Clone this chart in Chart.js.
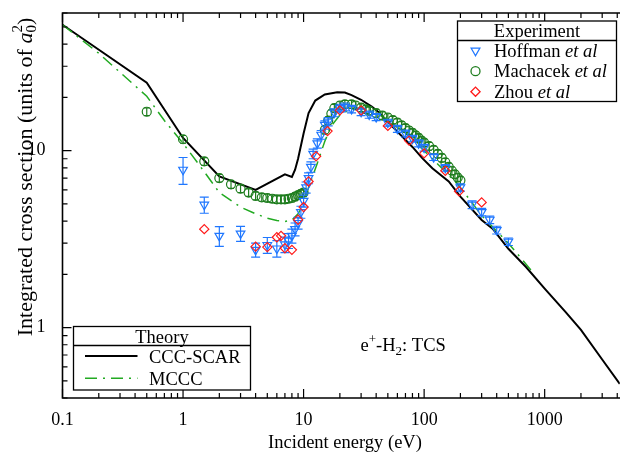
<!DOCTYPE html>
<html>
<head>
<meta charset="utf-8">
<script src="https://cdn.jsdelivr.net/npm/chart.js@4/dist/chart.umd.min.js"></script>
<style>
  html, body { margin: 0; padding: 0; background: #fff; overflow: hidden; }
  #wrap { width: 620px; height: 455px; overflow: hidden; }
  canvas { display: block; }
</style>
</head>
<body>
<!-- canvas is a little wider than the window: Chart.js keeps ~6px on the right,
     which the reference plot does not have -->
<div id="wrap"><canvas id="chart" width="626" height="455"></canvas></div>
<script>
// axis ticks
const xTicks = [0.1, 1, 10, 100, 1000];
const yTicks = [1, 10];

// theory curves
const cccE = [0.1, 0.5, 1, 2, 4, 7, 8, 8.5, 9, 10, 11, 12.5, 15, 19, 22, 25, 30, 37, 42, 58, 80, 96, 117, 160, 200, 300, 370, 500, 700, 1000, 1500, 2000, 3000, 4200];
const cccS = [51.5, 24.2, 11.8, 7.15, 6.0, 7.35, 7.1, 7.8, 9.0, 12.5, 16.3, 19.2, 20.8, 21.4, 21.3, 20.6, 19.4, 17.7, 16.5, 13.1, 10.5, 9.1, 7.95, 6.7, 5.5, 4.06, 3.62, 2.79, 2.2, 1.66, 1.22, 0.97, 0.66, 0.48];

const mcccE = [0.1, 0.2, 0.5, 0.7, 1, 1.4, 2, 3, 4, 5, 6, 7, 8, 9, 10, 11, 12, 13, 15, 17, 20, 25, 30, 40, 50, 70, 100, 150, 200, 300, 500, 800];
const mcccS = [51.5, 35.5, 20.3, 14.8, 11.0, 8.1, 5.8, 4.8, 4.4, 4.15, 4.03, 3.98, 4.05, 4.4, 5.0, 6.2, 7.3, 8.5, 11.3, 13.8, 15.9, 17.3, 17.4, 16.3, 15.0, 12.6, 10.0, 7.6, 6.2, 4.3, 3.0, 2.05];

// experiments
const hoffE = [1, 1.5, 2, 3, 4, 5, 6, 7, 7.5, 8, 8.5, 9, 9.5, 10, 10.5, 11, 11.5, 12, 13, 14, 15, 16, 18, 20, 22, 25, 30, 35, 40, 50, 60, 70, 80, 90, 100, 120, 150, 200, 250, 300, 350, 400, 500];
const hoffS = [7.8, 4.95, 3.3, 3.4, 2.75, 2.93, 2.8, 2.95, 3.1, 3.3, 3.6, 3.9, 4.5, 5.2, 6.2, 7.0, 8.1, 9.6, 11.0, 12.3, 14.0, 14.6, 16.4, 17.4, 17.7, 17.2, 16.6, 16.0, 15.5, 14.4, 13.3, 12.5, 11.7, 11.0, 10.4, 9.2, 8.0, 6.2, 4.95, 4.5, 4.07, 3.56, 3.06];
const hoffErr = [1.35, 0.52, 0.42, 0.33, 0.25, 0.3, 0.3, 0.3, 0.3, 0.3, 0.3, 0.3, 0.35, 0.4, 0.45, 0.5, 0.55, 0.6, 0.65, 0.7, 0.75, 0.8, 0.85, 0.9, 0.9, 0.85, 0.8, 0.75, 0.7, 0.65, 0.6, 0.55, 0.5, 0.5, 0.45, 0.4, 0.35, 0.3, 0.25, 0.22, 0.2, 0.18, 0.15];

const machE = [0.5, 1, 1.5, 2, 2.5, 3, 3.5, 4, 4.5, 5, 5.5, 6, 6.5, 7, 7.5, 8, 8.5, 9, 9.5, 10, 15, 16, 17, 18, 20, 22, 25, 27, 30, 33, 35, 40, 45, 50, 55, 60, 65, 70, 75, 80, 85, 90, 95, 100, 110, 120, 130, 140, 150, 160, 170, 180, 190, 200];
const machS = [16.6, 11.6, 8.7, 7.0, 6.45, 6.1, 5.8, 5.55, 5.45, 5.4, 5.35, 5.3, 5.3, 5.3, 5.35, 5.4, 5.5, 5.6, 5.7, 5.8, 13.1, 14.8, 16.2, 17.4, 18.0, 18.3, 18.3, 18.0, 17.5, 17.1, 16.8, 16.3, 15.8, 15.4, 14.9, 14.4, 13.9, 13.4, 13.0, 12.6, 12.2, 11.8, 11.4, 11.1, 10.6, 10.1, 9.6, 9.1, 8.6, 8.1, 7.7, 7.35, 7.05, 6.8];
const machRelErr = 0.05;

const zhouE = [1.5, 4, 5, 6, 6.5, 7, 8, 9, 10, 11, 12.7, 15.8, 20, 30, 50, 75, 100, 150, 195, 300];
const zhouS = [3.6, 2.87, 2.85, 3.24, 3.3, 2.81, 2.75, 4.07, 4.8, 6.7, 9.3, 12.9, 16.9, 16.9, 13.8, 11.4, 9.66, 7.7, 5.9, 5.1];

const BLUE = '#1f77ff';
const DKGREEN = '#1e7d1e';
const RED = '#ff1a1a';
const LTGREEN = '#22aa22';
const SERIF = '"Liberation Serif", "Times New Roman", serif';
const fnt = (size, italic) => (italic ? 'italic ' : '') + size + 'px ' + SERIF;

function pts(xs, ys) {
  return xs.map((x, i) => ({ x: x, y: ys[i] }));
}

// text with italics, sub- and superscripts
function drawRich(ctx, parts, x, y, size, align) {
  const small = Math.round(size * 0.7);
  const widths = parts.map(p => {
    if (p.stack) {
      ctx.font = fnt(small);
      return Math.max(ctx.measureText(p.stack[0]).width, ctx.measureText(p.stack[1]).width);
    }
    ctx.font = fnt(p.sup || p.sub ? small : size, p.i);
    return ctx.measureText(p.t).width;
  });
  const total = widths.reduce((a, b) => a + b, 0);
  let cx = align === 'center' ? x - total / 2 : x;
  ctx.textAlign = 'left';
  ctx.textBaseline = 'alphabetic';
  parts.forEach((p, k) => {
    if (p.stack) {
      ctx.font = fnt(small);
      ctx.fillText(p.stack[0], cx, y + size * 0.22);
      ctx.fillText(p.stack[1], cx, y - size * 0.45);
    } else {
      ctx.font = fnt(p.sup || p.sub ? small : size, p.i);
      ctx.fillText(p.t, cx, y + (p.sub ? size * 0.22 : p.sup ? -size * 0.42 : 0));
    }
    cx += widths[k];
  });
}

function marker(ctx, style, rot, r, x, y, color) {
  ctx.save();
  ctx.strokeStyle = color;
  ctx.fillStyle = 'rgba(0,0,0,0)';
  Chart.helpers.drawPoint(ctx, { pointStyle: style, rotation: rot, radius: r, borderWidth: 1.2 }, x, y);
  ctx.restore();
}

// error bars, drawn after each experimental set
const errorBars = {
  id: 'errorBars',
  afterDatasetDraw(chart, args) {
    const ds = chart.data.datasets[args.index];
    if (!ds.errors && !ds.relErr) return;
    const ctx = chart.ctx, ys = chart.scales.y;
    const a = chart.chartArea;
    ctx.save();
    ctx.beginPath();
    ctx.rect(a.left, a.top, a.right - a.left, a.bottom - a.top);
    ctx.clip();
    ctx.strokeStyle = ds.borderColor;
    ctx.lineWidth = 1.2;
    args.meta.data.forEach((el, i) => {
      const v = ds.data[i].y;
      const e = ds.errors ? ds.errors[i] : v * ds.relErr;
      const y1 = ys.getPixelForValue(v + e), y2 = ys.getPixelForValue(v - e);
      const w = ds.capHalf;
      ctx.beginPath();
      ctx.moveTo(el.x, y1); ctx.lineTo(el.x, y2);
      ctx.moveTo(el.x - w, y1); ctx.lineTo(el.x + w, y1);
      ctx.moveTo(el.x - w, y2); ctx.lineTo(el.x + w, y2);
      ctx.stroke();
    });
    ctx.restore();
  }
};

// frame, inward ticks, legends, labels
const decor = {
  id: 'decor',
  afterDraw(chart) {
    const ctx = chart.ctx, a = chart.chartArea;
    const xs = chart.scales.x, ys = chart.scales.y;
    ctx.save();
    ctx.strokeStyle = '#000';
    ctx.lineWidth = 1.6;
    ctx.beginPath();
    ctx.moveTo(a.right + 2, a.top); ctx.lineTo(a.left, a.top);
    ctx.lineTo(a.left, a.bottom); ctx.lineTo(a.right + 2, a.bottom);
    ctx.stroke();

    ctx.lineWidth = 1.2;
    ctx.beginPath();
    for (let d = -1; d <= 3; d++) {
      for (let k = 1; k <= 9; k++) {
        const v = k * Math.pow(10, d);
        if (v < xs.min || v > xs.max) continue;
        const px = xs.getPixelForValue(v);
        const L = k === 1 ? 9 : 5;
        ctx.moveTo(px, a.bottom); ctx.lineTo(px, a.bottom - L);
        ctx.moveTo(px, a.top); ctx.lineTo(px, a.top + L);
      }
    }
    for (let d = -1; d <= 1; d++) {
      for (let k = 1; k <= 9; k++) {
        const v = k * Math.pow(10, d);
        if (v < ys.min || v > ys.max) continue;
        const py = ys.getPixelForValue(v);
        const L = k === 1 ? 9 : 5;
        ctx.moveTo(a.left, py); ctx.lineTo(a.left + L, py);
      }
    }
    ctx.stroke();

    ctx.fillStyle = '#000';
    // axis titles
    drawRich(ctx, [{ t: 'Incident energy (eV)' }], 345, 448, 18.5, 'center');
    ctx.save();
    ctx.translate(31.5, 177);
    ctx.rotate(-Math.PI / 2);
    drawRich(ctx, [{ t: 'Integrated cross section (units of ' }, { t: 'a', i: true }, { stack: ['0', '2'] }, { t: ')' }], 0, 0, 22, 'center');
    ctx.restore();

    // annotation
    drawRich(ctx, [{ t: 'e' }, { t: '+', sup: true }, { t: '-H' }, { t: '2', sub: true }, { t: ': TCS' }], 360.5, 350.5, 18.5, 'left');

    // experiment legend
    ctx.lineWidth = 1.3;
    ctx.fillStyle = '#fff';
    ctx.fillRect(457.5, 21, 159, 80.5);
    ctx.strokeRect(457.5, 21, 159, 80.5);
    ctx.beginPath(); ctx.moveTo(457.5, 40.5); ctx.lineTo(616.5, 40.5); ctx.stroke();
    ctx.fillStyle = '#000';
    drawRich(ctx, [{ t: 'Experiment' }], 537, 37, 18.5, 'center');
    const exp = chart.data.datasets.filter(ds => ds.legendRow != null);
    exp.forEach(ds => {
      const y = 50.7 + ds.legendRow * 20.5;
      marker(ctx, ds.pointStyle, ds.pointRotation || 0, ds.pointRadius, 475.5, y, ds.borderColor);
      ctx.fillStyle = '#000';
      drawRich(ctx, [{ t: ds.label + ' ' }, { t: 'et al', i: true }], 494, y + 6, 18.5, 'left');
    });

    // theory legend
    ctx.fillStyle = '#fff';
    ctx.fillRect(73.5, 326.5, 177, 63.5);
    ctx.strokeStyle = '#000';
    ctx.strokeRect(73.5, 326.5, 177, 63.5);
    ctx.beginPath(); ctx.moveTo(73.5, 345.5); ctx.lineTo(250.5, 345.5); ctx.stroke();
    ctx.fillStyle = '#000';
    drawRich(ctx, [{ t: 'Theory' }], 162, 342.5, 18.5, 'center');
    const th = chart.data.datasets.filter(ds => ds.theoryRow != null);
    th.forEach(ds => {
      const y = 356 + ds.theoryRow * 22.3;
      ctx.save();
      ctx.strokeStyle = ds.borderColor;
      ctx.lineWidth = ds.borderWidth;
      ctx.setLineDash(ds.borderDash || []);
      ctx.beginPath(); ctx.moveTo(85, y); ctx.lineTo(137.5, y); ctx.stroke();
      ctx.restore();
      ctx.fillStyle = '#000';
      drawRich(ctx, [{ t: ds.label }], 149, y + 7, 18.5, 'left');
    });
    ctx.restore();
  }
};

const tickFont = { family: SERIF, size: 18 };

new Chart(document.getElementById('chart'), {
  type: 'scatter',
  data: {
    datasets: [
      {
        label: 'Zhou', data: pts(zhouE, zhouS), legendRow: 2, order: 0,
        pointStyle: 'rectRot', pointRadius: 4.6, borderColor: RED, backgroundColor: 'rgba(0,0,0,0)',
        pointBorderWidth: 1.2
      },
      {
        label: 'Hoffman', data: pts(hoffE, hoffS), legendRow: 0, order: 1,
        errors: hoffErr, capHalf: 4.5,
        pointStyle: 'triangle', pointRotation: 180, pointRadius: 5, borderColor: BLUE,
        backgroundColor: 'rgba(0,0,0,0)', pointBorderWidth: 1.2
      },
      {
        label: 'Machacek', data: pts(machE, machS), legendRow: 1, order: 2,
        relErr: machRelErr, capHalf: 3,
        pointStyle: 'circle', pointRadius: 4.5, borderColor: DKGREEN,
        backgroundColor: 'rgba(0,0,0,0)', pointBorderWidth: 1.2
      },
      {
        label: 'MCCC', data: pts(mcccE, mcccS), theoryRow: 1, order: 3,
        showLine: true, borderColor: LTGREEN, borderWidth: 1.5, borderDash: [12, 6, 2, 6],
        pointRadius: 0, tension: 0
      },
      {
        label: 'CCC-SCAR', data: pts(cccE, cccS), theoryRow: 0, order: 4,
        showLine: true, borderColor: '#000', borderWidth: 2, pointRadius: 0, tension: 0
      }
    ]
  },
  options: {
    responsive: false,
    animation: false,
    events: [],
    layout: { padding: { left: 0, right: 0, top: 13, bottom: 0 } },
    plugins: { legend: { display: false }, tooltip: { enabled: false } },
    scales: {
      x: {
        type: 'logarithmic', min: 0.1, max: 4200,
        grid: { display: false }, border: { display: false },
        afterBuildTicks: s => { s.ticks = xTicks.map(v => ({ value: v })); },
        afterFit: s => { s.height = 57; s.paddingLeft = 0; s.paddingRight = 0; },
        ticks: { font: tickFont, color: '#000', padding: 3, maxRotation: 0, autoSkip: false, callback: v => String(v) }
      },
      y: {
        type: 'logarithmic', min: 0.4, max: 60,
        grid: { display: false }, border: { display: false },
        afterBuildTicks: s => { s.ticks = yTicks.map(v => ({ value: v })); },
        afterFit: s => { s.width = 62.5; s.paddingTop = 0; s.paddingBottom = 0; },
        ticks: { font: tickFont, color: '#000', padding: 9, autoSkip: false, callback: v => String(v) }
      }
    }
  },
  plugins: [errorBars, decor]
});
</script>
</body>
</html>
